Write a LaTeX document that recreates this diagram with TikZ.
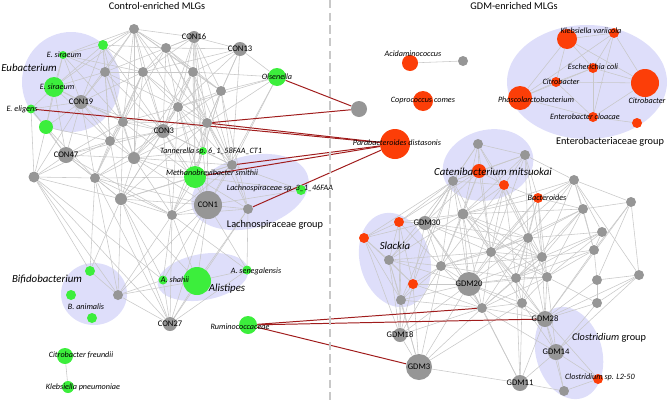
\documentclass[tikz,border=0pt]{standalone}
\usepackage{fontspec}
\setmainfont{Carlito}
\usepackage{xcolor}

\definecolor{mlggreen}{RGB}{60,238,60}
\definecolor{mlgred}{RGB}{252,62,8}
\definecolor{mlggray}{RGB}{150,150,150}
\definecolor{linkgray}{RGB}{200,200,200}
\definecolor{blobblue}{RGB}{222,222,250}
\definecolor{linkred}{RGB}{160,28,28}

\pgfdeclarelayer{blobs}
\pgfdeclarelayer{links}
\pgfsetlayers{blobs,links,main}

\tikzset{
  ball/.style={circle,inner sep=0pt,minimum size=#1*0.25mm},
  grayball/.style={ball=#1,fill=mlggray},
  greenball/.style={ball=#1,fill=mlggreen},
  redball/.style={ball=#1,fill=mlgred},
  link/.style={draw=linkgray,line width=0.4pt},
  redlink/.style={draw=linkred,line width=0.7pt},
  cluster/.style={fill=blobblue},
  sp/.style={inner sep=0pt,font=\fontsize{5.8}{6}\selectfont\itshape},
  mlg/.style={inner sep=0pt,font=\fontsize{6.1}{7}\selectfont},
  genus/.style={inner sep=0pt,font=\fontsize{7.7}{8}\selectfont\itshape},
  grp/.style={inner sep=0pt,font=\fontsize{7.3}{8}\selectfont},
}

\begin{document}
\begin{tikzpicture}[x=0.25mm,y=-0.25mm]
    \useasboundingbox (0,0) rectangle (669,400);

    % Titles and divider
    \node[grp] (ttlcon) at (157,6) {Control-enriched MLGs};
    \node[grp] (ttlgdm) at (514,6) {GDM-enriched MLGs};
    \coordinate (divtop) at (330,0);
    \coordinate (divbot) at (330,400);
    \draw[linkgray, line width=1.4pt, dash pattern=on 6pt off 3pt] (divtop) -- (divbot);

    % Group backgrounds
    \begin{pgfonlayer}{blobs}
        \fill[cluster] (71,82) ellipse [x radius=49, y radius=50];
        \fill[cluster, rotate around={15:(250,192)}] (250,192) ellipse [x radius=60, y radius=36];
        \fill[cluster] (94,294) ellipse [x radius=33, y radius=31];
        \fill[cluster, rotate around={10:(203,277)}] (203,277) ellipse [x radius=46, y radius=23];
        \fill[cluster] (587,82) ellipse [x radius=80, y radius=57];
        \fill[cluster, rotate around={15:(488,165)}] (488,165) ellipse [x radius=46, y radius=35];
        \fill[cluster, rotate around={16:(395,260)}] (395,260) ellipse [x radius=35, y radius=48];
        \fill[cluster, rotate around={16:(569,353)}] (569,353) ellipse [x radius=33, y radius=47];
    \end{pgfonlayer}

    % Control-enriched MLGs
    \node[grayball=10] (a1) at (134,29) {};
    \node[greenball=10] (e1) at (103,45) {};
    \node[greenball=8] (es1) at (63,55) {};
    \node[grayball=10] (a2) at (166,48) {};
    \node[grayball=12] (con16) at (194,37) {};
    \node[grayball=14] (con13) at (240,49) {};
    \node[grayball=10] (a3) at (105,72) {};
    \node[grayball=10] (a4) at (143,72) {};
    \node[grayball=10] (a5) at (193,72) {};
    \node[greenball=18] (ols) at (277,77) {};
    \node[grayball=10] (a6) at (221,91) {};
    \node[greenball=20] (es2) at (54,87) {};
    \node[grayball=14] (con19) at (81,102) {};
    \node[greenball=9] (eel) at (31,109) {};
    \node[grayball=10] (a7) at (178,107) {};
    \node[grayball=10] (a8) at (123,122) {};
    \node[grayball=10] (a9) at (207,123) {};
    \node[greenball=14] (e2) at (46,127) {};
    \node[grayball=14] (con3) at (163,131) {};
    \node[grayball=10] (a10) at (110,141) {};
    \node[greenball=8] (tan) at (203,151) {};
    \node[grayball=16] (con47) at (66,155) {};
    \node[grayball=12] (a11) at (134,158) {};
    \node[grayball=10] (a12) at (232,165) {};
    \node[grayball=11] (a13) at (34,177) {};
    \node[grayball=10] (a14) at (95,178) {};
    \node[greenball=22] (meth) at (195,177) {};
    \node[greenball=10] (lach) at (301,190) {};
    \node[grayball=12] (a15) at (121,199) {};
    \node[grayball=28] (con1) at (208,205) {};
    \node[grayball=10] (a16) at (248,209) {};
    \node[grayball=10] (a17) at (172,215) {};
    \node[greenball=10] (bif1) at (90,271) {};
    \node[greenball=10] (bif2) at (71,295) {};
    \node[grayball=10] (a18) at (118,295) {};
    \node[greenball=10] (bif3) at (92,318) {};
    \node[greenball=9] (ash) at (163,280) {};
    \node[greenball=28] (ali) at (197,281) {};
    \node[greenball=9] (asen) at (247,270) {};
    \node[grayball=14] (con27) at (170,324) {};
    \node[greenball=18] (rum) at (248,325) {};
    \node[greenball=16] (cfr) at (65,356) {};
    \node[greenball=12] (kpn) at (68,387) {};

    % GDM-enriched MLGs
    \node[redball=16] (acid) at (410,63) {};
    \node[grayball=10] (acg) at (463,61) {};
    \node[grayball=16] (hub) at (359,109) {};
    \node[redball=20] (cop) at (423,101) {};
    \node[redball=30] (para) at (395,144) {};
    \node[redball=20] (kv) at (567,39) {};
    \node[redball=10] (kvs) at (614,33) {};
    \node[redball=10] (eco) at (593,68) {};
    \node[redball=10] (cits) at (556,82) {};
    \node[redball=28] (citb) at (645,83) {};
    \node[redball=24] (pha) at (520,98) {};
    \node[redball=10] (ecl) at (593,117) {};
    \node[redball=10] (ens) at (637,123) {};
    \node[grayball=10] (g1) at (478,144) {};
    \node[grayball=10] (g2) at (525,155) {};
    \node[redball=14] (cat) at (479,171) {};
    \node[grayball=10] (g3) at (453,181) {};
    \node[redball=10] (r1) at (504,185) {};
    \node[grayball=10] (g4) at (574,180) {};
    \node[redball=10] (bac) at (538,198) {};
    \node[grayball=10] (g5) at (631,202) {};
    \node[grayball=10] (g6) at (583,209) {};
    \node[grayball=11] (g7) at (463,214) {};
    \node[redball=10] (r2) at (399,222) {};
    \node[grayball=14] (gdm30) at (425,223) {};
    \node[redball=10] (r3) at (364,238) {};
    \node[grayball=10] (g8) at (602,232) {};
    \node[grayball=10] (g9) at (528,238) {};
    \node[grayball=10] (g10) at (491,252) {};
    \node[grayball=10] (g11) at (542,257) {};
    \node[grayball=10] (g12) at (594,250) {};
    \node[grayball=10] (g13) at (389,260) {};
    \node[grayball=10] (g14) at (441,266) {};
    \node[grayball=10] (g15) at (639,275) {};
    \node[grayball=10] (g16) at (516,278) {};
    \node[grayball=10] (g17) at (547,277) {};
    \node[grayball=10] (g18) at (597,280) {};
    \node[redball=10] (r4) at (413,284) {};
    \node[grayball=24] (gdm20) at (469,284) {};
    \node[grayball=10] (g19) at (401,300) {};
    \node[grayball=10] (g20) at (522,303) {};
    \node[grayball=10] (g21) at (597,303) {};
    \node[grayball=10] (g22) at (482,308) {};
    \node[grayball=16] (gdm28) at (545,319) {};
    \node[grayball=14] (gdm18) at (400,335) {};
    \node[grayball=16] (gdm14) at (556,352) {};
    \node[grayball=26] (gdm3) at (419,367) {};
    \node[redball=10] (clo) at (598,379) {};
    \node[grayball=16] (gdm11) at (520,383) {};
    \node[grayball=10] (g23) at (564,391) {};

    % Correlation links
    \begin{pgfonlayer}{links}
    \foreach \s/\tl in {
        a1/{e1,es1,a2,con16,a3,a4,a5,con3,a7,a9,con19,a8,a11,a6,es2},
        e1/{es1,a3,con19,es2,a4,a8,a10,con3,a2},
        es1/{es2,con19,a3,a4,a8,e2},
        a2/{con16,a4,a5,a7,con3,a9,a6,a8,a12,con13},
        con16/{con13,a4,a5,a7,a9,a6,con3,tan,meth,a12,a3},
        con13/{a5,a6,ols,a9,a7,a12,a4},
        a3/{a4,con19,a8,es2,a10,con3,a7,a11},
        a4/{a5,a7,a8,con3,a9,a11,a14,con19,a10},
        a5/{a6,a7,a9,con3,a12,tan,meth,a11,ols},
        ols/{a6,a9,a12,a7,con1},
        a6/{a7,a9,a12,meth,con3,tan,a16},
        es2/{con19,eel,e2,a8,a10,con47},
        con19/{eel,e2,a8,a10,con47,a14,con3,a11,a13},
        eel/{e2,con47,a13},
        a7/{a8,a9,con3,tan,a11,a12,meth,con1,a17,a15},
        a8/{a9,con3,a10,con47,a11,a14,a15,meth},
        a9/{con3,tan,a12,meth,con1,a11,a17,a16,a15},
        e2/{a10,con47,a13,a14},
        con3/{a10,a11,tan,meth,con1,a17,a15,a14,a12,con47},
        a10/{con47,a11,a14,a13,a15},
        tan/{a12,meth,con1,a11,a17},
        con47/{a13,a14,a11,a15,a17},
        a11/{a14,a15,meth,con1,a17,a12},
        a12/{meth,con1,a16,a17,a15,lach},
        a13/{a14,a18,bif1,a15,ash,con27},
        a14/{a15,a17,bif1,a18,con1,meth,con27},
        meth/{con1,a16,a17,lach,a15},
        a15/{con1,a17,a18,ash,ali,con27,bif1},
        con1/{a16,a17,ali,asen,ash,con27,a18,lach},
        a17/{a16,ali,ash,con27,asen,a18},
        a16/{ali,asen,con27},
        a18/{bif1,ash,con27,ali},
        ash/{ali,con27}, ali/{asen,con27}, asen/{con27}, cfr/{kpn},
        acid/{acg},
        kv/{kvs,eco,cits,citb,pha}, kvs/{eco,ecl,citb,pha},
        cits/{eco,pha,ecl,citb}, eco/{ecl,citb,pha}, pha/{ecl}, ecl/{ens,citb},
        g1/{cat,g3,r1,g2,g7,gdm30,g10,g9},
        g2/{cat,r1,g3,g4,bac,g7,g9,g10,g11},
        cat/{g3,r1,g7,gdm30,g10,g14,r2},
        g3/{r1,g7,gdm30,r2,r3,g13,g14,gdm20,g10,r4,g19},
        r1/{g7,bac,g9,g10,g14,gdm20,g16,g11},
        g4/{bac,g5,g6,g8,g9,g10,g11,g12,g7,g15},
        bac/{g6,g9,g10,g11,g7,g16,g17,gdm20},
        g5/{g6,g15,g12,g18,gdm28},
        g6/{g9,g11,g12,g7,g10,g16,g17},
        g7/{gdm30,g9,g10,g14,gdm20,g16,r2,g13,g11,g22,g17},
        r2/{gdm30,r3,g13,g14,r4,g19,gdm18},
        gdm30/{r3,g13,g14,gdm20,g10,g9,r4,g22,g11},
        r3/{g13,g19,r4,gdm18},
        g8/{g9,g11,g12,g17,g16},
        g9/{g10,g11,g16,g17,gdm20,g14,g22,g20,gdm28},
        g10/{g11,g14,gdm20,g16,g22,g13,g20,gdm28,g17},
        g11/{g12,g16,g17,gdm20,g20,g22,gdm28,g14},
        g12/{g17,g18,gdm28,g16},
        g13/{g14,r4,g19,gdm18,gdm20,gdm3},
        g14/{gdm20,r4,g19,g22,g16,gdm3,gdm18},
        g15/{g18,gdm28,g21,gdm14},
        g16/{g17,g20,g22,gdm20,gdm28,gdm11},
        g17/{g20,g21,gdm28,gdm20,g22,gdm14},
        g18/{gdm28,g21},
        r4/{gdm20,g19,gdm3,gdm18,g22},
        gdm20/{g22,g19,gdm3,g20,gdm28,gdm18,gdm11},
        g19/{gdm18,gdm3,g22},
        g20/{g22,gdm28,gdm14,gdm11},
        g21/{gdm28,gdm14},
        g22/{gdm28,gdm3,gdm18,gdm11,gdm14},
        gdm28/{gdm14,gdm11,clo,g23},
        gdm18/{gdm3}, gdm3/{gdm11,g20},
        gdm14/{clo,g23,gdm11}, clo/{g23}, gdm11/{g23}}
        \foreach \t in \tl
            \draw[link] (\s) -- (\t);
    % links across the two groups
    \foreach \s/\t in {ols/hub, a9/hub, eel/para, a9/para, a12/para, meth/para,
        a16/para, rum/g22, rum/gdm28, rum/gdm3}
        \draw[redlink] (\s) -- (\t);
    \end{pgfonlayer}

    % Labels, control side
    \node[genus] (l-eub) at (29,68) {Eubacterium};
    \node[sp] (l-es1) at (64,55) {E. siraeum};
    \node[sp] (l-es2) at (57,87) {E. siraeum};
    \node[mlg] (l-con19) at (81,102) {CON19};
    \node[sp] (l-eel) at (22,109) {E. eligens};
    \node[mlg] (l-con16) at (194,37) {CON16};
    \node[mlg] (l-con13) at (240,49) {CON13};
    \node[sp] (l-ols) at (277,77) {Olsenella};
    \node[mlg] (l-con3) at (164,131) {CON3};
    \node[sp] (l-tan) at (211,151) {Tannerella sp. 6\_1\_58FAA\_CT1};
    \node[mlg] (l-con47) at (66,155) {CON47};
    \node[sp] (l-meth) at (212,173) {Methanobrevibacter smithii};
    \node[sp] (l-lach) at (280,188) {Lachnospiraceae sp. 3\_1\_46FAA};
    \node[mlg] (l-con1) at (208,205) {CON1};
    \node[grp] (l-lachg) at (275,225) {Lachnospiraceae group};
    \node[genus] (l-bif) at (47,279) {Bifidobacterium};
    \node[sp] (l-bani) at (86,307) {B. animalis};
    \node[sp] (l-ash) at (175,280) {A. shahii};
    \node[genus] (l-ali) at (227,289) {Alistipes};
    \node[sp] (l-asen) at (256,271) {A. senegalensis};
    \node[mlg] (l-con27) at (170,324) {CON27};
    \node[sp] (l-rum) at (240,327) {Ruminococcaceae};
    \node[sp] (l-cfr) at (81,355) {Citrobacter freundii};
    \node[sp] (l-kpn) at (83,387) {Klebsiella pneumoniae};

    % Labels, GDM side
    \node[sp] (l-acid) at (413,54) {Acidaminococcus};
    \node[sp] (l-cop) at (423,101) {Coprococcus comes};
    \node[sp] (l-para) at (397,143) {Parabacteroides distasonis};
    \node[sp] (l-kv) at (591,31) {Klebsiella variicola};
    \node[sp] (l-eco) at (593,67) {Escherichia coli};
    \node[sp] (l-cits) at (561,82) {Citrobacter};
    \node[sp] (l-citb) at (647,101) {Citrobacter};
    \node[sp] (l-pha) at (536,100) {Phascolarctobacterium};
    \node[sp] (l-ecl) at (585,117) {Enterobacter cloacae};
    \node[grp] (l-entg) at (610,142) {Enterobacteriaceae group};
    \node[genus] (l-cat) at (493,172) {Catenibacterium mitsuokai};
    \node[sp] (l-bac) at (547,198) {Bacteroides};
    \node[mlg] (l-gdm30) at (427,223) {GDM30};
    \node[genus] (l-sla) at (395,246) {Slackia};
    \node[mlg] (l-gdm20) at (469,284) {GDM20};
    \node[mlg] (l-gdm28) at (545,319) {GDM28};
    \node[mlg] (l-gdm18) at (400,335) {GDM18};
    \node[grp] (l-clog) at (609,338) {\textit{Clostridium} group};
    \node[mlg] (l-gdm14) at (556,352) {GDM14};
    \node[mlg] (l-gdm3) at (419,367) {GDM3};
    \node[sp] (l-clo) at (600,377) {Clostridium sp. L2-50};
    \node[mlg] (l-gdm11) at (520,383) {GDM11};
\end{tikzpicture}
\end{document}
